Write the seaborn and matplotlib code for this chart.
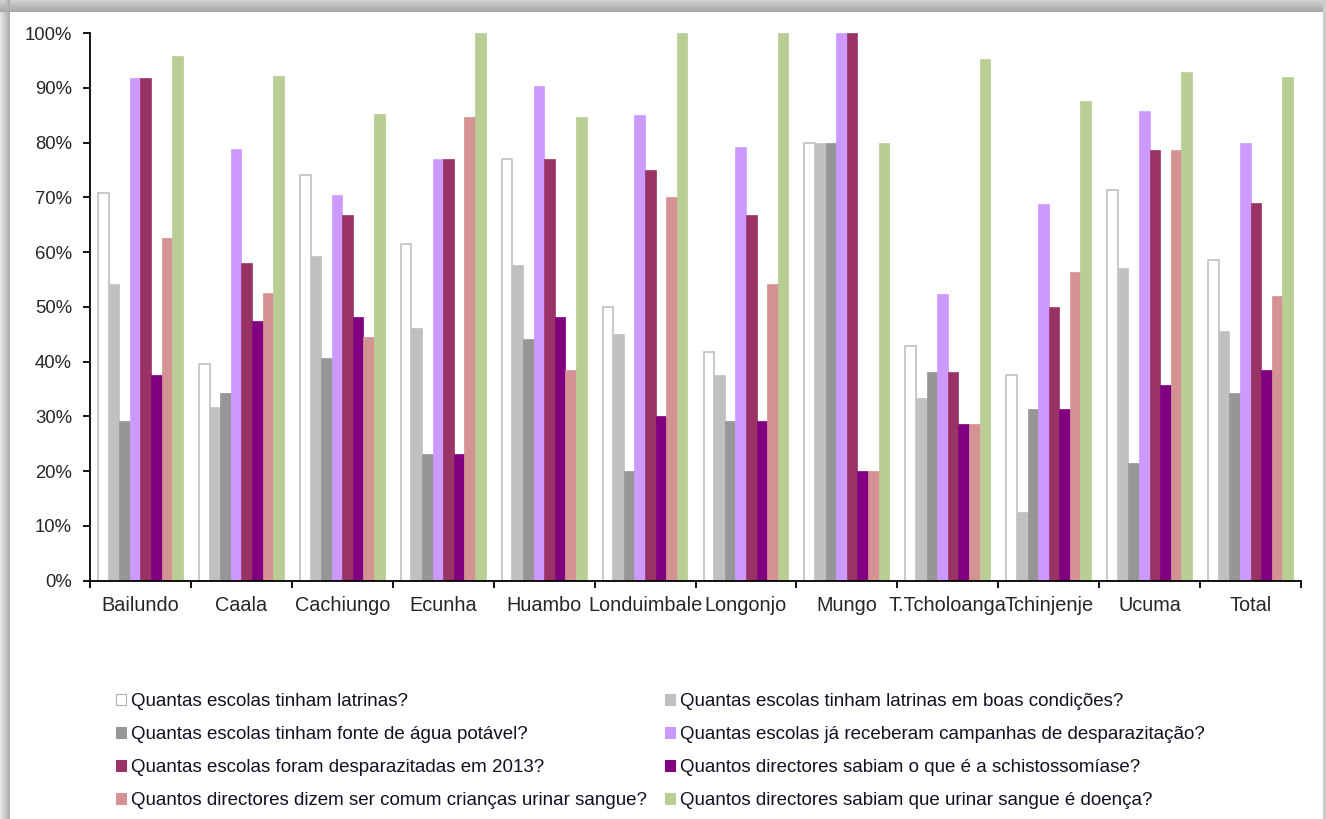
import numpy as np
import pandas as pd
import matplotlib
matplotlib.use("Agg")
import matplotlib.pyplot as plt
from matplotlib.patches import Patch
from matplotlib.ticker import FixedLocator, PercentFormatter
import seaborn as sns

# Municipalities (x categories)
municipios = ["Bailundo", "Caala", "Cachiungo", "Ecunha", "Huambo", "Londuimbale",
              "Longonjo", "Mungo", "T.Tcholoanga", "Tchinjenje", "Ucuma", "Total"]

# Survey questions (series)
perguntas = [
    "Quantas escolas tinham latrinas?",
    "Quantas escolas tinham latrinas em boas condições?",
    "Quantas escolas tinham fonte de água potável?",
    "Quantas escolas já receberam campanhas de desparazitação?",
    "Quantas escolas foram desparazitadas em 2013?",
    "Quantos directores sabiam o que é a schistossomíase?",
    "Quantos directores dizem ser comum crianças urinar sangue?",
    "Quantos directores sabiam que urinar sangue é doença?",
]

# Percentages per question, one value per municipality
latrinas          = [70.8, 39.5, 74.1, 61.5, 76.9, 50.0, 41.7, 80.0, 42.9, 37.5, 71.4, 58.5]
latrinas_boas     = [54.2, 31.6, 59.3, 46.2, 57.7, 45.0, 37.5, 80.0, 33.3, 12.5, 57.1, 45.6]
agua_potavel      = [29.2, 34.2, 40.7, 23.1, 44.2, 20.0, 29.2, 80.0, 38.1, 31.3, 21.4, 34.2]
campanhas         = [91.7, 78.9, 70.4, 76.9, 90.4, 85.0, 79.2, 100.0, 52.4, 68.8, 85.7, 80.0]
desparazitadas    = [91.7, 57.9, 66.7, 76.9, 76.9, 75.0, 66.7, 100.0, 38.1, 50.0, 78.6, 68.9]
schistossomiase   = [37.5, 47.4, 48.1, 23.1, 48.1, 30.0, 29.2, 20.0, 28.6, 31.3, 35.7, 38.5]
urinar_comum      = [62.5, 52.6, 44.4, 84.6, 38.5, 70.0, 54.2, 20.0, 28.6, 56.3, 78.6, 51.9]
urinar_doenca     = [95.8, 92.1, 85.2, 100.0, 84.6, 100.0, 100.0, 80.0, 95.2, 87.5, 92.9, 91.9]

series = [latrinas, latrinas_boas, agua_potavel, campanhas,
          desparazitadas, schistossomiase, urinar_comum, urinar_doenca]

cores = ["#ffffff", "#c0c0c0", "#969696", "#cc99ff",
         "#993366", "#800080", "#d59292", "#b9cd94"]

df = pd.DataFrame({
    "municipio": np.repeat([municipios], len(perguntas), axis=0).ravel(),
    "pergunta": np.repeat(perguntas, len(municipios)),
    "valor": np.concatenate(series),
})

sns.set_theme(style="white")
plt.rcParams["font.family"] = ["Liberation Sans", "DejaVu Sans"]
plt.rcParams["text.color"] = "#111122"

W, H, DPI = 1326, 819, 100
fig = plt.figure(figsize=(W / DPI, H / DPI), dpi=DPI)

# Soft shadowed frame around the chart area
bg = fig.add_axes([0, 0, 1, 1], zorder=-10)
img = np.ones((H, W, 3))
for i in range(12):
    shade = 0.82 - 0.16 * (i / 11)
    img[i, :, :] = np.minimum(img[i, :, :], shade)
for j in range(10):
    shade = 0.90 - 0.22 * (j / 9)
    img[:, j, :] = np.minimum(img[:, j, :], shade)
img[:, W - 3:, :] = 0.80
bg.imshow(img, aspect="auto", extent=[0, 1, 0, 1])
bg.set_axis_off()

ax = fig.add_axes([90 / W, 1 - 580.5 / H, 1211 / W, 547.5 / H])
sns.barplot(data=df, x="municipio", y="valor", hue="pergunta",
            order=municipios, hue_order=perguntas, palette=cores,
            width=0.84, gap=0, saturation=1, linewidth=0,
            legend=False, ax=ax)

# Outline the white series so it stays visible
for patch in ax.containers[0]:
    patch.set_edgecolor("#c0c0c0")
    patch.set_linewidth(1.2)
for cont, cor in zip(ax.containers[1:], cores[1:]):
    for patch in cont:
        patch.set_edgecolor(cor)
        patch.set_linewidth(0.5)

ax.set_ylim(0, 100)
ax.set_xlim(-0.5, len(municipios) - 0.5)
ax.set_yticks(np.arange(0, 101, 10))
ax.yaxis.set_major_formatter(PercentFormatter(decimals=0))
ax.set_xlabel("")
ax.set_ylabel("")

# Category labels centred, tick marks on category boundaries
ax.xaxis.set_major_locator(FixedLocator(np.arange(-0.5, len(municipios), 1.0)))
ax.xaxis.set_minor_locator(FixedLocator(np.arange(len(municipios))))
ax.set_xticklabels([""] * (len(municipios) + 1))
ax.set_xticklabels(municipios, minor=True)
ax.tick_params(axis="x", which="major", direction="out", length=5, width=1.3,
               color="black", bottom=True)
ax.tick_params(axis="x", which="minor", length=0, pad=11, labelsize=14.3)
ax.tick_params(axis="y", direction="out", length=5, width=1.3, color="black",
               left=True, pad=8, labelsize=13.3)

sns.despine(ax=ax, top=True, right=True)
for s in ("left", "bottom"):
    ax.spines[s].set_color("black")
    ax.spines[s].set_linewidth(1.3)

# Legend in two columns, filled row by row
handles = [Patch(facecolor=c, edgecolor=("#b0b0b0" if c == "#ffffff" else c),
                 linewidth=0.8) for c in cores]
ordem = [0, 2, 4, 6, 1, 3, 5, 7]
fig.legend([handles[i] for i in ordem], [perguntas[i] for i in ordem],
           ncol=2, loc="upper left", bbox_to_anchor=(116 / W, 1 - 693 / H),
           frameon=False, fontsize=13.5, handlelength=0.55, handleheight=0.55,
           handletextpad=0.25, columnspacing=0.95, labelspacing=0.85,
           borderaxespad=0, borderpad=0)

fig.savefig("out.png", dpi=DPI)
